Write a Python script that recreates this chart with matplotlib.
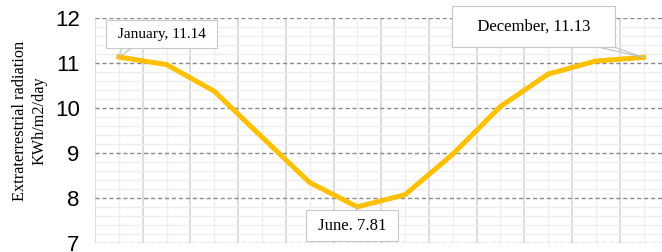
import numpy as np
import matplotlib.pyplot as plt
from matplotlib.ticker import MultipleLocator

# monthly extraterrestrial radiation, KWh/m2/day
months = ['January', 'February', 'March', 'April', 'May', 'June',
          'July', 'August', 'September', 'October', 'November', 'December']
radiation = [11.14, 10.97, 10.38, 9.36, 8.35, 7.81,
             8.08, 8.98, 10.04, 10.76, 11.05, 11.13]
callouts = {0: 'January, 11.14', 5: 'June. 7.81', 11: 'December, 11.13'}

fig = plt.figure(figsize=(6.62, 2.52), dpi=100)
ax = fig.add_axes([0.1435, 0.0345, 0.8647, 0.893])

x = np.arange(1, len(months) + 1)
ax.plot(x, radiation, color='#FFC000', lw=3.6, solid_joinstyle='miter', zorder=3)

ax.set_xlim(0.5, 12.5)
ax.set_ylim(7, 12)

# gridlines like an excel sheet
ax.set_xticks(np.arange(0.5, 13, 1))
ax.set_xticks(x, minor=True)
ax.yaxis.set_major_locator(MultipleLocator(1))
ax.yaxis.set_minor_locator(MultipleLocator(0.2))
ax.grid(axis='x', which='major', color='#d9d9d9', lw=1.3, zorder=0)
ax.grid(axis='x', which='minor', color='#eeeeee', lw=1.0, zorder=0)
ax.grid(axis='y', which='minor', color='#eeeeee', lw=1.0, zorder=0)
ax.grid(axis='y', which='major', color='#8a8a8a', lw=1.0, ls=(0, (3, 2)), zorder=1)
ax.set_axisbelow(True)
ax.tick_params(axis='x', which='both', length=0, labelbottom=False)
ax.tick_params(axis='y', which='both', length=0, pad=11)
for lab in ax.get_yticklabels():
    lab.set_fontfamily('Liberation Sans')
    lab.set_fontsize(16)
for s in ax.spines.values():
    s.set_visible(False)

fig.text(0.045, 0.52, 'Extraterrestrial radiation\nKWh/m2/day', rotation=90,
         ha='center', va='center', family='Liberation Serif', fontsize=11.7,
         linespacing=1.25)

# callout boxes: text position, font size, padding, roots of the two leader lines
label_pos = {0: (1.9, 11.65), 5: (5.89, 7.385), 11: (9.70, 11.81)}
label_size = {0: 11, 5: 12, 11: 12}
label_pad = {0: (' ', 0.5), 5: (' ', 0.45), 11: ('   ', 0.75)}
leader_roots = {0: [(0.11, 0.0), (0.3, 0.0)], 5: [(0.5, 1.0), (0.56, 1.0)],
                11: [(0.58, 0.0), (0.83, 0.0)]}
for i, txt in callouts.items():
    sp, pad = label_pad[i]
    for k, root in enumerate(leader_roots[i]):
        visible = k == 1
        ax.annotate(sp + txt + sp, xy=(x[i], radiation[i]), xytext=label_pos[i],
                    ha='center', va='center', family='Liberation Serif',
                    fontsize=label_size[i], zorder=5 if visible else 4,
                    color='black' if visible else 'none',
                    bbox=dict(boxstyle=f'square,pad={pad}',
                              fc='white' if visible else 'none',
                              ec='#c8c8c8' if visible else 'none', lw=0.8),
                    arrowprops=dict(arrowstyle='-', color='#bfbfbf', lw=0.8,
                                    shrinkA=0, shrinkB=0, relpos=root))

fig.savefig('out.png', dpi=100)
